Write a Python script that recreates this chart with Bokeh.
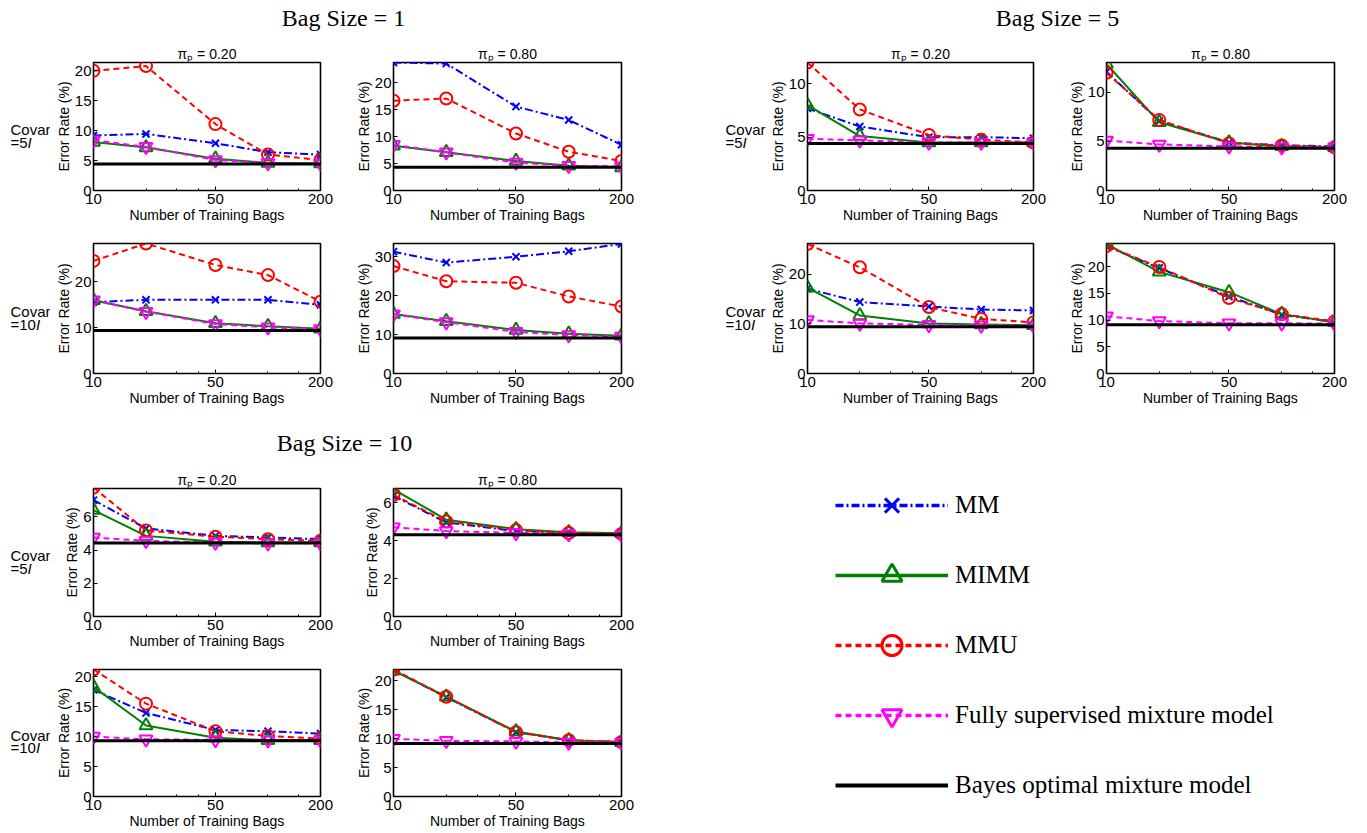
from bokeh.plotting import figure
from bokeh.layouts import row, column
from bokeh.models import (Range1d, FixedTicker, Label, Legend, LegendItem,
                          NumeralTickFormatter)
from bokeh.embed import file_html
from bokeh.resources import INLINE

# ---------------- data ----------------
bags = [10, 20, 50, 100, 200]
x_ticks = [10, 50, 200]
x_minor = [20, 30, 40, 100, 150]

group_titles = ["Bag Size = 1", "Bag Size = 5", "Bag Size = 10"]
pi_titles = ["\u03c0\u209a = 0.20", "\u03c0\u209a = 0.80"]
covar_nums = ["5", "10"]

# Bag size 1
b1_p20_c5 = dict(mm=[9.2, 9.45, 7.9, 6.4, 6.0], mimm=[8.1, 7.2, 5.3, 4.6, 4.5],
                 mmu=[20.0, 20.8, 11.1, 6.0, 5.1], fs=[8.4, 7.3, 5.1, 4.6, 4.5],
                 bayes=[4.45, 4.45, 4.45, 4.45, 4.45])
b1_p80_c5 = dict(mm=[23.8, 23.6, 15.6, 13.1, 8.5], mimm=[8.3, 7.1, 5.5, 4.6, 4.3],
                 mmu=[16.7, 17.1, 10.6, 7.2, 5.5], fs=[8.5, 7.1, 5.2, 4.6, 4.5],
                 bayes=[4.3, 4.3, 4.3, 4.3, 4.3])
b1_p20_c10 = dict(mm=[15.6, 16.1, 16.1, 16.1, 15.0], mimm=[16.0, 13.6, 11.0, 10.3, 9.8],
                  mmu=[24.6, 28.4, 23.7, 21.5, 15.7], fs=[16.0, 13.5, 10.8, 10.1, 9.7],
                  bayes=[9.4, 9.4, 9.4, 9.4, 9.4])
b1_p80_c10 = dict(mm=[31.3, 28.5, 30.0, 31.4, 33.3], mimm=[15.3, 13.4, 11.2, 10.2, 9.7],
                  mmu=[27.6, 23.7, 23.3, 19.8, 17.2], fs=[15.2, 13.2, 10.7, 9.9, 9.5],
                  bayes=[9.1, 9.1, 9.1, 9.1, 9.1])
# Bag size 5
b5_p20_c5 = dict(mm=[7.7, 6.0, 5.0, 5.0, 4.9], mimm=[8.0, 5.1, 4.5, 4.5, 4.5],
                 mmu=[12.0, 7.6, 5.2, 4.75, 4.5], fs=[4.85, 4.7, 4.5, 4.5, 4.5],
                 bayes=[4.4, 4.4, 4.4, 4.4, 4.4])
b5_p80_c5 = dict(mm=[12.1, 7.1, 4.9, 4.6, 4.5], mimm=[12.9, 6.95, 4.9, 4.5, 4.4],
                 mmu=[12.0, 7.2, 4.8, 4.6, 4.4], fs=[5.1, 4.7, 4.5, 4.4, 4.4],
                 bayes=[4.3, 4.3, 4.3, 4.3, 4.3])
b5_p20_c10 = dict(mm=[17.1, 14.4, 13.5, 12.9, 12.7], mimm=[17.3, 11.7, 10.1, 9.9, 9.7],
                  mmu=[26.1, 21.4, 13.4, 11.0, 10.3], fs=[10.8, 10.1, 9.8, 9.7, 9.6],
                  bayes=[9.4, 9.4, 9.4, 9.4, 9.4])
b5_p80_c10 = dict(mm=[23.8, 19.7, 14.4, 11.0, 9.6], mimm=[24.2, 19.0, 15.2, 11.1, 9.6],
                  mmu=[23.8, 19.9, 14.1, 11.1, 9.75], fs=[10.7, 9.8, 9.4, 9.4, 9.3],
                  bayes=[9.1, 9.1, 9.1, 9.1, 9.1])
# Bag size 10
b10_p20_c5 = dict(mm=[7.0, 5.3, 4.85, 4.75, 4.65], mimm=[6.4, 4.85, 4.5, 4.45, 4.45],
                  mmu=[7.75, 5.18, 4.8, 4.65, 4.55], fs=[4.75, 4.55, 4.45, 4.4, 4.4],
                  bayes=[4.42, 4.42, 4.42, 4.42, 4.42])
b10_p80_c5 = dict(mm=[6.35, 4.95, 4.5, 4.4, 4.3], mimm=[6.7, 5.1, 4.6, 4.43, 4.38],
                  mmu=[6.4, 5.0, 4.55, 4.4, 4.35], fs=[4.7, 4.5, 4.4, 4.35, 4.3],
                  bayes=[4.3, 4.3, 4.3, 4.3, 4.3])
b10_p20_c10 = dict(mm=[17.8, 13.95, 11.1, 10.9, 10.5], mimm=[18.3, 11.85, 9.8, 9.4, 9.4],
                   mmu=[21.2, 15.5, 10.9, 10.1, 9.65], fs=[10.0, 9.55, 9.45, 9.4, 9.4],
                   bayes=[9.3, 9.3, 9.3, 9.3, 9.3])
b10_p80_c10 = dict(mm=[21.8, 17.1, 11.1, 9.7, 9.4], mimm=[21.7, 17.2, 11.2, 9.7, 9.35],
                   mmu=[21.9, 17.2, 11.1, 9.7, 9.4], fs=[9.95, 9.6, 9.5, 9.3, 9.3],
                   bayes=[9.15, 9.15, 9.15, 9.15, 9.15])

# axis tops and y ticks per panel
y_tops = dict(b1_p20_c5=21.4, b1_p80_c5=23.8, b1_p20_c10=28.4, b1_p80_c10=33.4,
              b5_p20_c5=12.0, b5_p80_c5=13.05, b5_p20_c10=26.2, b5_p80_c10=24.3,
              b10_p20_c5=7.7, b10_p80_c5=6.74, b10_p20_c10=21.2, b10_p80_c10=21.9)
y_ticks = dict(b1_p20_c5=[0, 5, 10, 15, 20], b1_p80_c5=[0, 5, 10, 15, 20],
               b1_p20_c10=[0, 10, 20], b1_p80_c10=[0, 10, 20, 30],
               b5_p20_c5=[0, 5, 10], b5_p80_c5=[0, 5, 10],
               b5_p20_c10=[0, 10, 20], b5_p80_c10=[0, 5, 10, 15, 20],
               b10_p20_c5=[0, 2, 4, 6], b10_p80_c5=[0, 2, 4, 6],
               b10_p20_c10=[0, 5, 10, 15, 20], b10_p80_c10=[0, 5, 10, 15, 20])

# ---------------- styles ----------------
FONT = "Liberation Sans"
SERIF = "Liberation Serif"
METHODS = [
    # key, label, color, dash, marker, size
    ("mm", "MM", "#0000ff", "8 3 2 3", "x", 10),
    ("mimm", "MIMM", "#008000", "solid", "triangle", 13),
    ("mmu", "MMU", "#ff0000", "6 4", "circle", 12),
    ("fs", "Fully supervised mixture model", "#ff00ff", "6 4", "inverted_triangle", 13),
    ("bayes", "Bayes optimal mixture model", "#000000", "solid", None, 0),
]
NAN = float("nan")


def style_axis(ax):
    ax.axis_line_color = None
    ax.major_tick_in = 4
    ax.major_tick_out = 0
    ax.minor_tick_in = 2
    ax.minor_tick_out = 0
    ax.major_tick_line_color = "black"
    ax.minor_tick_line_color = "black"
    ax.major_label_text_font = FONT
    ax.major_label_text_font_size = "15px"
    ax.major_label_text_color = "black"
    ax.axis_label_text_font = FONT
    ax.axis_label_text_font_size = "14px"
    ax.axis_label_text_font_style = "normal"
    ax.axis_label_text_color = "black"
    ax.major_label_standoff = 3
    ax.axis_label_standoff = 0


def panel(key, data, width, height, bl, br, bt, bb, title=None):
    p = figure(width=width, height=height, x_axis_type="log",
               x_range=Range1d(10, 200), y_range=Range1d(0, y_tops[key]),
               min_border_left=bl, min_border_right=br,
               min_border_top=bt, min_border_bottom=bb,
               output_backend="svg", toolbar_location=None, title=title)
    p.grid.visible = False
    p.outline_line_color = "black"
    p.outline_line_width = 1.6
    if title is not None:
        p.title.text_font = FONT
        p.title.text_font_size = "14px"
        p.title.text_font_style = "normal"
        p.title.text_color = "black"
        p.title.align = "center"
        p.title.standoff = 1
    xa = p.xaxis[0]
    ya = p.yaxis[0]
    style_axis(xa)
    style_axis(ya)
    xa.ticker = FixedTicker(ticks=x_ticks, minor_ticks=x_minor)
    xa.formatter = NumeralTickFormatter(format="0")
    xa.axis_label = "Number of Training Bags"
    ya.ticker = FixedTicker(ticks=y_ticks[key])
    ya.minor_tick_line_color = None
    ya.major_label_standoff = 2
    ya.axis_label = "Error Rate (%)"

    for mkey, label, color, dash, marker, size in METHODS:
        lw = 3 if mkey == "bayes" else 2
        p.line(bags, data[mkey], line_color=color, line_width=lw, line_dash=dash)
        if marker is not None:
            p.scatter(bags, data[mkey], marker=marker, size=size, line_color=color,
                      fill_color=None, line_width=2)
    return p


def blank(width, height):
    p = figure(width=width, height=height, x_range=Range1d(0, width),
               y_range=Range1d(0, height), min_border=0,
               x_axis_location=None, y_axis_location=None,
               output_backend="svg", toolbar_location=None)
    p.grid.visible = False
    p.outline_line_color = None
    return p


def covar_fig(width, height, fh, num, left):
    # inside a row the blank figure's frame is aligned with its neighbours' frames,
    # so screen units below are measured from that aligned frame's bottom
    p = blank(width, height)
    yc = fh / 2 - 3
    p.add_layout(Label(x=left, y=yc, x_units="screen", y_units="screen", text="Covar",
                       text_font=FONT, text_font_size="15px", text_baseline="middle",
                       text_align="left", text_color="black"))
    y2 = yc - 12.5
    p.add_layout(Label(x=left, y=y2, x_units="screen", y_units="screen", text="=" + num,
                       text_font=FONT, text_font_size="15px", text_baseline="middle",
                       text_align="left", text_color="black"))
    off = 17.1 if len(num) == 1 else 25.4
    p.add_layout(Label(x=left + off, y=y2, x_units="screen", y_units="screen", text="I",
                       text_font=FONT, text_font_size="15px", text_font_style="italic",
                       text_baseline="middle", text_align="left", text_color="black"))
    return p


# ---------------- layout geometry (page pixels) ----------------
COLS = [  # width, border left, border right
    (295, 43, 25), (315, 48, 39), (289, 40, 22), (307, 51, 28)]
CW1, CW2 = 50, 106
ROW_A = (193, 27, 128, 38)   # height, top, frame, bottom
ROW_B = (180, 15, 130, 35)
ROW_C = (193, 27, 128, 38)
ROW_D = (177, 15, 129, 33)
TOP_H, MID_H = 35, 53


def make_row(keys_datas, rowgeom, titles, covar_num):
    h, bt, fh, bb = rowgeom
    kids = [covar_fig(CW1, h, fh, covar_num, 10)]
    for i, (k, d) in enumerate(keys_datas):
        if i == 2:
            kids.append(covar_fig(CW2, h, fh, covar_num, 65))
        w, bl, br = COLS[i]
        kids.append(panel(k, d, w, h, bl, br, bt, bb, title=titles[i % 2] if titles else None))
    return row(*kids, spacing=0)


def title_label(x, y, text):
    return Label(x=x, y=y, x_units="screen", y_units="screen", text=text,
                 text_font=SERIF, text_font_size="24px", text_align="center",
                 text_baseline="middle", text_color="black")


total_w = CW1 + sum(c[0] for c in COLS) + CW2
title_top = blank(total_w, TOP_H)
title_top.add_layout(title_label(343, TOP_H - 17, group_titles[0]))
title_top.add_layout(title_label(1057, TOP_H - 17, group_titles[1]))

rowA = make_row([("b1_p20_c5", b1_p20_c5), ("b1_p80_c5", b1_p80_c5),
                 ("b5_p20_c5", b5_p20_c5), ("b5_p80_c5", b5_p80_c5)], ROW_A, pi_titles, covar_nums[0])
rowB = make_row([("b1_p20_c10", b1_p20_c10), ("b1_p80_c10", b1_p80_c10),
                 ("b5_p20_c10", b5_p20_c10), ("b5_p80_c10", b5_p80_c10)], ROW_B, None, covar_nums[1])

left_w = CW1 + COLS[0][0] + COLS[1][0]
title_mid = blank(left_w, MID_H)
title_mid.add_layout(title_label(344, 19, group_titles[2]))

rowC = make_row([("b10_p20_c5", b10_p20_c5), ("b10_p80_c5", b10_p80_c5)], ROW_C, pi_titles, covar_nums[0])
rowD = make_row([("b10_p20_c10", b10_p20_c10), ("b10_p80_c10", b10_p80_c10)], ROW_D, None, covar_nums[1])

# legend panel
leg_h = MID_H + ROW_C[0] + ROW_D[0]
leg = blank(total_w - left_w, leg_h)
items = []
for mkey, label, color, dash, marker, size in METHODS:
    lw = 4 if mkey == "bayes" else 3.5
    rs = [leg.line([NAN], [NAN], line_color=color, line_width=lw, line_dash=dash)]
    if marker is not None:
        rs.append(leg.scatter([NAN], [NAN], marker=marker, size=20, line_color=color,
                              fill_color=None, line_width=3))
    items.append(LegendItem(label=label, renderers=rs))
legend = Legend(items=items, location=(175, 21), glyph_width=113, glyph_height=50,
                label_height=50, spacing=20, label_standoff=7, padding=0, margin=0,
                border_line_color=None, background_fill_alpha=0,
                label_text_font=SERIF, label_text_font_size="25px", label_text_color="black")
leg.add_layout(legend)

top_block = column(title_top, rowA, rowB, spacing=0)
bottom_block = row(column(title_mid, rowC, rowD, spacing=0), leg, spacing=0)
layout = column(top_block, bottom_block, spacing=0)

open("out.html", "w").write(file_html(layout, INLINE))
